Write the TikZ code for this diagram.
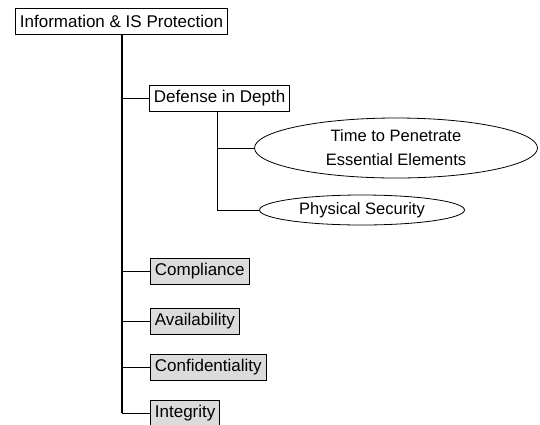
\documentclass[tikz,border=0pt]{standalone}
\usepackage{fontspec}
\setmainfont{Liberation Sans}
\usetikzlibrary{shapes.geometric}
\begin{document}
\begin{tikzpicture}[x=1pt,y=-1pt,
  every node/.style={font=\fontsize{17}{19}\selectfont},
  whitebox/.style={draw, fill=white, line width=0.8pt, inner xsep=4.5pt, inner ysep=0pt, minimum height=26, anchor=west},
  graybox/.style={whitebox, fill=gray!28},
  oval/.style={draw, ellipse, fill=white, line width=0.8pt, inner sep=0pt, align=center, font=\fontsize{16.5}{19}\selectfont},
  trunk/.style={line width=1.6pt},
  branch/.style={line width=0.8pt}]
\useasboundingbox (0,0) rectangle (540,424);
\node[whitebox] (root) at (15,21) {Information \& IS Protection};
\node[whitebox] (did) at (149,98) {Defense in Depth};
\node[oval, minimum width=283, minimum height=60] (ttp) at (396,148) {Time to Penetrate\\[5pt]Essential Elements};
\node[oval, minimum width=205, minimum height=30] (phys) at (362,210) {Physical Security};
\node[graybox] (comp) at (150,271) {Compliance};
\node[graybox] (avail) at (150,321) {Availability};
\node[graybox] (conf) at (150,367) {Confidentiality};
\node[graybox] (integ) at (150,413) {Integrity};
\coordinate (tb) at (122,413);
\draw[trunk] (root.south -| tb) -- (tb);
\draw[branch] (did.west) -- (did.west -| tb);
\draw[branch] (comp.west) -- (comp.west -| tb);
\draw[branch] (avail.west) -- (avail.west -| tb);
\draw[branch] (conf.west) -- (conf.west -| tb);
\draw[branch] (integ.west) -- (tb);
\coordinate (sb) at (217,210);
\draw[branch] (did.south -| sb) -- (sb) -- (phys.west);
\draw[branch] (ttp.west) -- (ttp.west -| sb);
\end{tikzpicture}
\end{document}
